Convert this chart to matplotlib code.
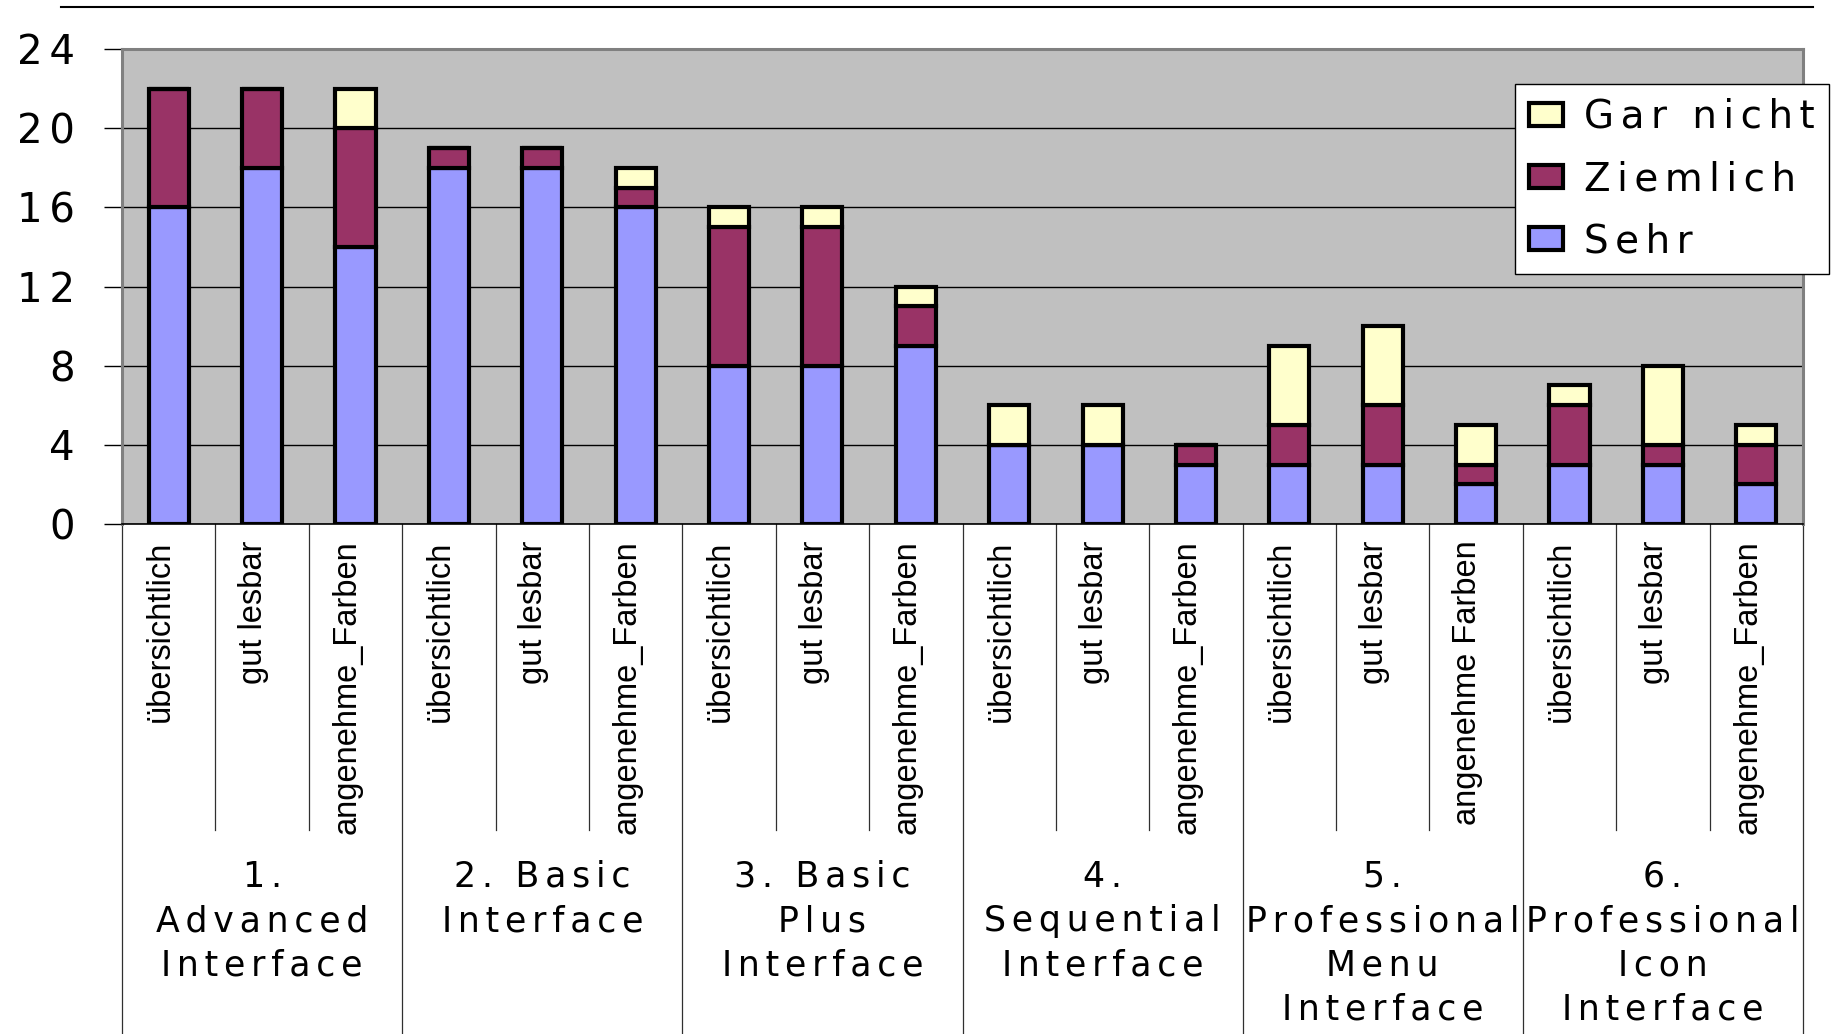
import matplotlib
matplotlib.use("Agg")
import matplotlib.pyplot as plt
from matplotlib.lines import Line2D
import numpy as np

plt.rcParams["font.family"] = ["Liberation Sans", "DejaVu Sans"]

# survey answers per interface and criterion
groups = [
    "1.\nAdvanced\nInterface",
    "2. Basic\nInterface",
    "3. Basic\nPlus\nInterface",
    "4.\nSequential\nInterface",
    "5.\nProfessional\nMenu\nInterface",
    "6.\nProfessional\nIcon\nInterface",
]
items = [
    "übersichtlich", "gut lesbar", "angenehme_Farben",
    "übersichtlich", "gut lesbar", "angenehme_Farben",
    "übersichtlich", "gut lesbar", "angenehme_Farben",
    "übersichtlich", "gut lesbar", "angenehme_Farben",
    "übersichtlich", "gut lesbar", "angenehme Farben",
    "übersichtlich", "gut lesbar", "angenehme_Farben",
]
sehr = [16, 18, 14, 18, 18, 16, 8, 8, 9, 4, 4, 3, 3, 3, 2, 3, 3, 2]
ziemlich = [6, 4, 6, 1, 1, 1, 7, 7, 2, 0, 0, 1, 2, 3, 1, 3, 1, 2]
gar_nicht = [0, 0, 2, 0, 0, 1, 1, 1, 1, 2, 2, 0, 4, 4, 2, 1, 4, 1]
series = ["Sehr", "Ziemlich", "Gar nicht"]
colors = ["#9999FF", "#993366", "#FFFFCC"]
yticks = [0, 4, 8, 12, 16, 20, 24]

W, H = 1838, 1034
GAP = "\u2006"  # six-per-em space


def spread(text, gap=GAP):
    # wide letter spacing, line by line
    return "\n".join(gap.join(line) for line in text.split("\n"))


fig = plt.figure(figsize=(W / 100, H / 100), dpi=100)
ax = fig.add_axes([122 / W, 1 - 524 / H, (1803 - 122) / W, (524 - 49) / H])
ax.set_facecolor("#C0C0C0")

x = np.arange(len(items))
bottom = np.zeros(len(items))
bars = []
for name, vals, col in zip(series, [sehr, ziemlich, gar_nicht], colors):
    b = ax.bar(x, vals, 0.43, bottom=bottom, color=col, edgecolor="black",
               linewidth=3.0, label=name, zorder=3)
    bars.append(b)
    bottom += np.array(vals)

ax.set_xlim(-0.5, len(items) - 0.5)
ax.set_ylim(0, 24)
ax.set_yticks(yticks)
ax.set_yticklabels([spread(str(v)) for v in yticks],
                   fontfamily="DejaVu Sans", fontsize=29)
ax.tick_params(axis="y", length=13, width=1, pad=21, color="black")
ax.set_xticks([])
ax.yaxis.grid(True, color="black", linewidth=1)
ax.set_axisbelow(True)
for side in ["left", "top", "right"]:
    ax.spines[side].set_color("#808080")
    ax.spines[side].set_linewidth(2.2)
ax.spines["bottom"].set_color("black")
ax.spines["bottom"].set_linewidth(1.2)

# category table under the plot
trans = ax.get_xaxis_transform()
for i in range(len(items) + 1):
    xb = i - 0.5
    y_end = -1.1 if i % 3 == 0 else -0.644
    ax.plot([xb, xb], [0, y_end], color="#303030", lw=0.9, transform=trans,
            clip_on=False)
for i, lab in enumerate(items):
    ax.text(i - 0.09, -0.034, lab, rotation=90, ha="center", va="top",
            fontsize=23.5, transform=trans)
for g, lab in enumerate(groups):
    ax.text(3 * g + 1, -0.707, spread(lab), ha="center", va="top",
            fontfamily="DejaVu Sans", fontsize=25, linespacing=1.38,
            transform=trans)

# rule across the top
fig.add_artist(Line2D([61 / W, 1813 / W], [1 - 7 / H] * 2, color="black", lw=1.5))

leg = ax.legend(bars[::-1], [spread(s) for s in series[::-1]],
                loc="upper left", bbox_to_anchor=(1515 / W, 1 - 84 / H),
                bbox_transform=fig.transFigure,
                prop={"family": "DejaVu Sans", "size": 28},
                fancybox=False, framealpha=1, borderpad=0.36, borderaxespad=0,
                handlelength=0.87, handleheight=0.53, handletextpad=0.55,
                labelspacing=0.62)
leg.get_frame().set_edgecolor("black")
leg.get_frame().set_linewidth(1)
leg.set_zorder(10)

fig.savefig("out.png", dpi=100)
